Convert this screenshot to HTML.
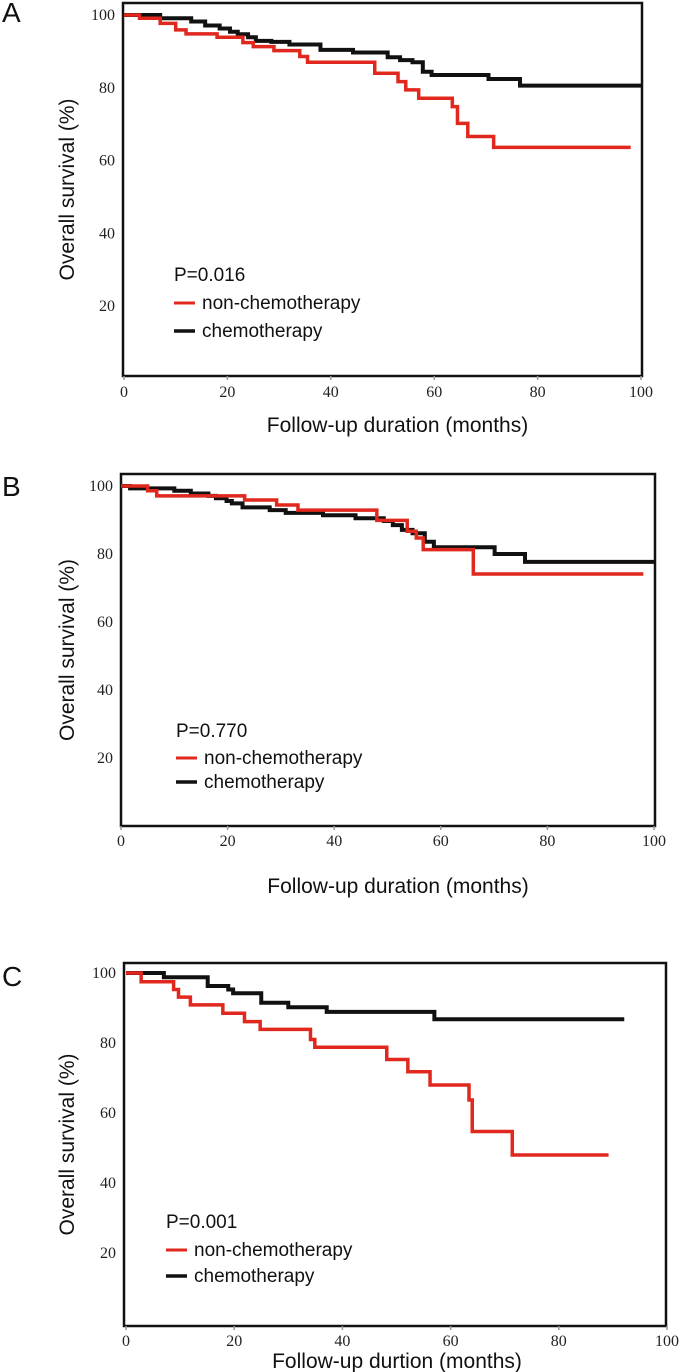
<!DOCTYPE html>
<html><head><meta charset="utf-8">
<style>
body{margin:0;background:#fff;}
svg{display:block;}
.tick{font-family:"Liberation Serif",serif;font-size:16px;fill:#222;}
.lab{font-family:"Liberation Sans",sans-serif;font-size:19px;fill:#111;}
.ttl{font-family:"Liberation Sans",sans-serif;font-size:21px;fill:#111;}
.let{font-family:"Liberation Sans",sans-serif;font-size:28px;fill:#111;}
</style></head>
<body>
<svg id="fig" width="685" height="1372" viewBox="0 0 685 1372" xmlns="http://www.w3.org/2000/svg"></svg>
<script>
// Panel A data
const aRedT=[0,3,7,10,12,18,23,25,29,34,35.5,48.5,53,54.5,57,63.5,64.5,66.5,71.5];
const aRedV=[100,99.1,97.7,95.9,94.8,93.9,92.4,91.3,90.2,88.6,87,84,81.7,79.4,77.1,74.8,70.2,66.6,63.6];
const aRedEnd=98;
const aBlkT=[0,7,13,15.7,18.5,20.5,22,24,25.5,28.5,32,38,44.3,51,53.4,55.8,57.8,59.5,70.5,76.6];
const aBlkV=[100,99.1,98.2,97.1,96.3,95.4,94.7,93.9,92.9,92.6,91.9,90.4,89.7,88.4,87.6,87,84.4,83.5,82.4,80.6];
const aBlkEnd=100;
// Panel B data
const bRedT=[0,5,6.7,23.2,29.2,33.2,48,53.7,55.4,56.7,66.1];
const bRedV=[100,98.6,97.1,95.9,94.4,92.9,89.9,86.7,84.7,81.3,74.1];
const bRedEnd=98;
const bBlkT=[0,1.7,10,13.1,16.4,17.8,19.8,20.8,22.8,27.9,30.9,37.9,44,49.3,51,52.7,54.7,57,58.7,70.1,75.8];
const bBlkV=[100,99.3,98.6,97.8,97.1,96.4,95.6,94.9,93.7,92.9,92.1,91.4,90.5,89.7,88.5,87.1,86.1,83.6,82,80,77.7];
const bBlkEnd=100;
// Panel C data
const cRedT=[0,2.8,8.8,9.7,11.9,17.9,21.9,24.8,34.1,34.9,48.2,52.1,56.2,63.4,64,71.4];
const cRedV=[100,97.5,95.3,93.1,90.9,88.5,86.1,83.9,81,78.8,75.3,71.8,68,63.7,54.7,48];
const cRedEnd=89.2;
const cBlkT=[0,7,15.1,18.9,19.8,25,30,37.1,57];
const cBlkV=[100,98.8,96.3,95.3,94.2,91.5,90.2,88.9,86.8];
const cBlkEnd=92.1;
const xTicks=[0,20,40,60,80,100];
const yTicks=[20,40,60,80,100];

const NS="http://www.w3.org/2000/svg";
const svg=document.getElementById('fig');
function mk(tag,attrs,parent){const e=document.createElementNS(NS,tag);for(const k in attrs)e.setAttribute(k,attrs[k]);(parent||svg).appendChild(e);return e;}

const panels=[
 {id:'a',letter:'A',ly:22,box:[123,3,642,376],x0:124,x100:641,y100:15,y20:306,tickY:397,title:'Follow-up duration (months)',titleY:432,titleDx:15,ytX:74,
  p:'P=0.016',lx:174,py:281,ry:303,by:331,red:[aRedT,aRedV,aRedEnd],blk:[aBlkT,aBlkV,aBlkEnd]},
 {id:'b',letter:'B',ly:496,box:[121,474,655,826],x0:121,x100:654,y100:486,y20:758,tickY:846,title:'Follow-up duration (months)',titleY:893,titleDx:10,ytX:74,
  p:'P=0.770',lx:176,py:737,ry:758,by:782,red:[bRedT,bRedV,bRedEnd],blk:[bBlkT,bBlkV,bBlkEnd]},
 {id:'c',letter:'C',ly:986,box:[124,963,666,1326],x0:126,x100:667,y100:973,y20:1253,tickY:1346,title:'Follow-up durtion (months)',titleY:1368,titleDx:2,ytX:74,
  p:'P=0.001',lx:166,py:1228,ry:1250,by:1276,red:[cRedT,cRedV,cRedEnd],blk:[cBlkT,cBlkV,cBlkEnd]}
];

panels.forEach(P=>{
  const g=mk('g',{});
  
  
  const xs=v=>P.x0+(P.x100-P.x0)*v/100;
  const ys=v=>P.y100+(P.y20-P.y100)*(100-v)/80;
  const L=mk('text',{x:2,y:P.ly,class:'let'},g);L.textContent=P.letter;
  
  
  const [x1,y1,x2,y2]=P.box;
  const r=mk('rect',{x:x1,y:y1,width:x2-x1,height:y2-y1,fill:'none',stroke:'#111','stroke-width':2.5},g);
  
  
  xTicks.forEach(t=>{
    mk('line',{x1:xs(t),x2:xs(t),y1:y2,y2:y2+4,stroke:'#999','stroke-width':1.5},g);
    const tx=mk('text',{x:xs(t),y:P.tickY,class:'tick','text-anchor':'middle'},g);tx.textContent=t;
    
    
  });
  yTicks.forEach(t=>{
    const ty=mk('text',{x:x1-8,y:ys(t)+5,class:'tick','text-anchor':'end'},g);ty.textContent=t;
    
    
  });
  const xt=mk('text',{x:(x1+x2)/2+P.titleDx,y:P.titleY,class:'ttl','text-anchor':'middle'},g);xt.textContent=P.title;
  
  
  const yc=(y1+y2)/2;
  const yt=mk('text',{x:P.ytX,y:yc,class:'ttl','text-anchor':'middle',transform:`rotate(-90 ${P.ytX} ${yc})`},g);yt.textContent='Overall survival (%)';
  
  
  function step(T,V,end,color,w,name){
    let d=`M${xs(T[0])},${ys(V[0])}`;
    for(let i=1;i<T.length;i++){d+=` H${xs(T[i])} V${ys(V[i])}`;}
    d+=` H${xs(end)}`;
    const p=mk('path',{d:d,fill:'none',stroke:color,'stroke-width':w},g);
    
    
  }
  step(P.blk[0],P.blk[1],P.blk[2],'#111',4,'chemotherapy-curve');
  step(P.red[0],P.red[1],P.red[2],'#e0281e',3.5,'non-chemotherapy-curve');
  const pt=mk('text',{x:P.lx,y:P.py,class:'lab'},g);pt.textContent=P.p;
  
  
  mk('line',{x1:P.lx,x2:P.lx+21,y1:P.ry,y2:P.ry,stroke:'#e0281e','stroke-width':3},g);
  const t1=mk('text',{x:P.lx+28,y:P.ry+6,class:'lab'},g);t1.textContent='non-chemotherapy';
  
  
  mk('line',{x1:P.lx,x2:P.lx+21,y1:P.by,y2:P.by,stroke:'#111','stroke-width':3.5},g);
  const t2=mk('text',{x:P.lx+28,y:P.by+6,class:'lab'},g);t2.textContent='chemotherapy';
  
  
});
</script>
</body></html>
